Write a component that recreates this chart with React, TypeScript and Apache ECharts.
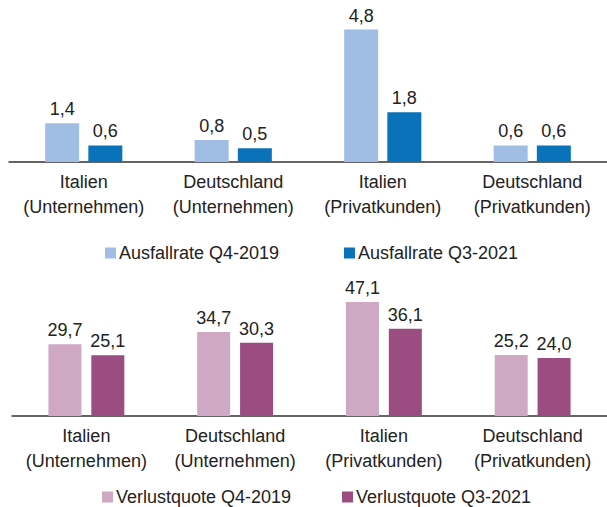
import React, { useEffect, useRef } from "react";
import * as echarts from "echarts";

const categories = [
  "Italien\n(Unternehmen)",
  "Deutschland\n(Unternehmen)",
  "Italien\n(Privatkunden)",
  "Deutschland\n(Privatkunden)",
];
const ausfall2019 = [1.4, 0.8, 4.8, 0.6];
const ausfall2021 = [0.6, 0.5, 1.8, 0.6];
const verlust2019 = [29.7, 34.7, 47.1, 25.2];
const verlust2021 = [25.1, 30.3, 36.1, 24.0];
const seriesNames = [
  "Ausfallrate Q4-2019",
  "Ausfallrate Q3-2021",
  "Verlustquote Q4-2019",
  "Verlustquote Q3-2021",
];

const FONT = "'Liberation Sans', Arial, Helvetica, sans-serif";
const TXT = "#222";

export default function App() {
  const ref = useRef<HTMLDivElement>(null);
  useEffect(() => {
    if (!ref.current) return;
    const chart = echarts.init(ref.current, null, { renderer: "svg" });
    const fmt = (p: any) => Number(p.value).toFixed(1).replace(".", ",");
    const label = {
      show: true,
      position: "top",
      distance: 5,
      formatter: fmt,
      fontSize: 18,
      fontFamily: FONT,
      color: TXT,
    };
    const xAxisBase = {
      type: "category",
      data: categories,
      axisTick: { show: false },
      axisLine: { lineStyle: { color: "#333", width: 1.5 } },
      axisLabel: {
        fontSize: 18,
        fontFamily: FONT,
        color: TXT,
        lineHeight: 25,
        margin: 7,
        interval: 0,
      },
    };
    const legendBase = {
      itemWidth: 11,
      itemHeight: 11,
      itemGap: 10,
      padding: 0,
      icon: "rect",
      textStyle: {
        fontSize: 18,
        lineHeight: 18,
        fontFamily: FONT,
        color: TXT,
        padding: [0, 0, 0, -2],
      },
    };
    chart.setOption({
      animation: false,
      textStyle: { fontFamily: FONT },
      grid: [
        { left: 9, width: 605, top: 24, height: 138 },
        { left: 12, width: 602, top: 295, height: 121 },
      ],
      xAxis: [
        { ...xAxisBase, gridIndex: 0 },
        { ...xAxisBase, gridIndex: 1 },
      ],
      yAxis: [
        { type: "value", gridIndex: 0, min: 0, max: 5, show: false },
        { type: "value", gridIndex: 1, min: 0, max: 50, show: false },
      ],
      legend: [
        { ...legendBase, data: [seriesNames[0]], left: 105, top: 244 },
        { ...legendBase, data: [seriesNames[1]], left: 344, top: 244 },
        { ...legendBase, data: [seriesNames[2]], left: 102, top: 488 },
        { ...legendBase, data: [seriesNames[3]], left: 342, top: 488 },
      ],
      series: [
        {
          name: seriesNames[0],
          type: "bar",
          xAxisIndex: 0,
          yAxisIndex: 0,
          data: ausfall2019,
          barWidth: 34,
          barGap: "27%",
          itemStyle: { color: "#a0bde3" },
          label,
        },
        {
          name: seriesNames[1],
          type: "bar",
          xAxisIndex: 0,
          yAxisIndex: 0,
          data: ausfall2021,
          barWidth: 34,
          barGap: "27%",
          itemStyle: { color: "#0a72b9" },
          label,
        },
        {
          name: seriesNames[2],
          type: "bar",
          xAxisIndex: 1,
          yAxisIndex: 1,
          data: verlust2019,
          barWidth: 33,
          barGap: "30%",
          itemStyle: { color: "#cfa9c4" },
          label,
        },
        {
          name: seriesNames[3],
          type: "bar",
          xAxisIndex: 1,
          yAxisIndex: 1,
          data: verlust2021,
          barWidth: 33,
          barGap: "30%",
          itemStyle: { color: "#9b4c80" },
          label,
        },
      ],
    });
    return () => chart.dispose();
  }, []);
  return (
    <div
      ref={ref}
      style={{ position: "absolute", left: 0, top: 0, width: 607, height: 507, background: "#fff" }}
    />
  );
}
